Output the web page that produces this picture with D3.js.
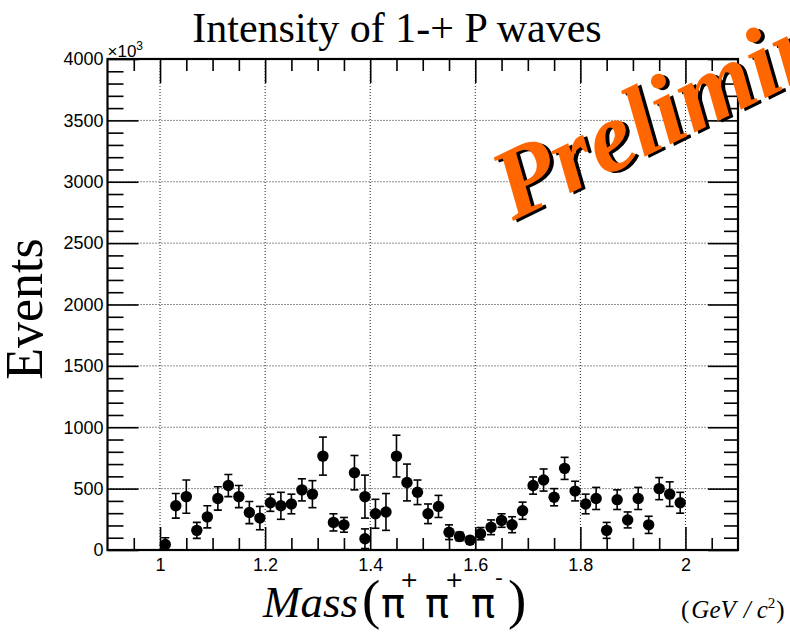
<!DOCTYPE html>
<html>
<head>
<meta charset="utf-8">
<script src="https://cdn.jsdelivr.net/npm/d3@7/dist/d3.min.js"></script>
<style>
  body { margin: 0; background: #fff; }
  svg { display: block; }
</style>
</head>
<body>
<svg id="chart" width="790" height="634"></svg>
<script>
// bin centres (GeV/c^2); 1.39 shows up twice in the plot
let mass = [1.01, 1.03, 1.05, 1.07, 1.09, 1.11, 1.13, 1.15, 1.17, 1.19,
            1.21, 1.23, 1.25, 1.27, 1.29, 1.31, 1.33, 1.35, 1.37, 1.39, 1.39,
            1.41, 1.43, 1.45, 1.47, 1.49, 1.51, 1.53, 1.55, 1.57, 1.59,
            1.61, 1.63, 1.65, 1.67, 1.69, 1.71, 1.73, 1.75, 1.77, 1.79,
            1.81, 1.83, 1.85, 1.87, 1.89, 1.91, 1.93, 1.95, 1.97, 1.99];
// events (x10^3)
let events = [45, 360, 435, 160, 270, 420, 525, 435, 305, 260,
              385, 360, 375, 490, 455, 765, 225, 205, 630, 92, 435,
              295, 310, 765, 550, 470, 295, 355, 145, 110, 80,
              133, 185, 240, 206, 320, 525, 570, 430, 665, 480,
              375, 420, 160, 410, 245, 420, 205, 500, 455, 385];
let errors = [55, 100, 135, 65, 90, 95, 90, 90, 90, 95,
              70, 110, 80, 90, 110, 155, 70, 60, 140, 80, 175,
              118, 150, 170, 150, 100, 80, 90, 60, 35, 30,
              50, 60, 55, 65, 70, 70, 90, 70, 90, 80,
              80, 90, 65, 80, 65, 90, 70, 90, 100, 85];

let xMajor = [1, 1.2, 1.4, 1.6, 1.8, 2];
let xMinor = [0.95, 1.05, 1.1, 1.15, 1.25, 1.3, 1.35, 1.45, 1.5, 1.55, 1.65, 1.7, 1.75, 1.85, 1.9, 1.95, 2.05];
let yMajor = [0, 500, 1000, 1500, 2000, 2500, 3000, 3500, 4000];
let yMinor = [];
for (let v = 0; v <= 4000; v += 100) if (v % 500 !== 0) yMinor.push(v);

let svg = d3.select("#chart");
let pLeft = 107.5, pRight = 738, pTop = 59, pBottom = 550;

let x = d3.scaleLinear().domain([0.9, 2.1]).range([pLeft, pRight]);
let y = d3.scaleLinear().domain([0, 4000]).range([pBottom, pTop]);

let serif = "'Liberation Serif', 'Times New Roman', serif";
let sans = "'Liberation Sans', Arial, sans-serif";

// grid
let grid = svg.append("g")
    .attr("stroke", "#222")
    .attr("stroke-width", 1)
    .attr("stroke-dasharray", "1,2");
grid.selectAll(".gx").data(xMajor).enter().append("line")
    .attr("x1", d => x(d)).attr("x2", d => x(d))
    .attr("y1", pTop).attr("y2", pBottom);
grid.selectAll(".gy").data(yMajor.slice(1, -1)).enter().append("line")
    .attr("x1", pLeft).attr("x2", pRight)
    .attr("y1", d => y(d)).attr("y2", d => y(d));

// axes, ticks pointing inwards like ROOT
let styleAxis = function(g){
    g.select(".domain").remove();
    g.selectAll(".tick line").attr("stroke", "#000").attr("stroke-width", 1.6);
    g.selectAll("text").attr("font-family", sans).attr("font-size", 18).attr("fill", "#000");
};

svg.append("g").attr("transform", `translate(0,${pBottom})`)
    .call(d3.axisBottom(x).tickValues(xMinor).tickSize(-12).tickFormat(""))
    .call(styleAxis);
svg.append("g").attr("transform", `translate(0,${pBottom})`)
    .call(d3.axisBottom(x).tickValues(xMajor).tickSize(-23).tickPadding(8).tickFormat(d3.format("")))
    .call(styleAxis);
svg.append("g").attr("transform", `translate(0,${pTop})`)
    .call(d3.axisTop(x).tickValues(xMinor).tickSize(-12).tickFormat(""))
    .call(styleAxis);
svg.append("g").attr("transform", `translate(0,${pTop})`)
    .call(d3.axisTop(x).tickValues(xMajor).tickSize(-24).tickFormat(""))
    .call(styleAxis);

svg.append("g").attr("transform", `translate(${pLeft},0)`)
    .call(d3.axisLeft(y).tickValues(yMinor).tickSize(-16).tickFormat(""))
    .call(styleAxis);
svg.append("g").attr("transform", `translate(${pLeft},0)`)
    .call(d3.axisLeft(y).tickValues(yMajor).tickSize(-31).tickPadding(4).tickFormat(d3.format("")))
    .call(styleAxis);
svg.append("g").attr("transform", `translate(${pRight},0)`)
    .call(d3.axisRight(y).tickValues(yMinor).tickSize(-14).tickFormat(""))
    .call(styleAxis);
svg.append("g").attr("transform", `translate(${pRight},0)`)
    .call(d3.axisRight(y).tickValues(yMajor).tickSize(-30).tickFormat(""))
    .call(styleAxis);

// frame
svg.append("rect")
    .attr("x", pLeft).attr("y", pTop)
    .attr("width", pRight - pLeft).attr("height", pBottom - pTop)
    .attr("fill", "none").attr("stroke", "#000").attr("stroke-width", 2.2);

// x10^3 multiplier
svg.append("text").attr("x", pLeft).attr("y", 57)
    .attr("font-family", sans).attr("font-size", 17)
    .text("\u00d710")
    .append("tspan").attr("dy", -7).attr("font-size", 12).text("3");

// data points with error bars
let pts = mass.map((m, i) => ({m: m, v: events[i], e: errors[i]}));
svg.append("clipPath").attr("id", "plotclip")
    .append("rect").attr("x", pLeft).attr("y", pTop).attr("width", pRight - pLeft).attr("height", pBottom - pTop);
let data = svg.append("g").attr("clip-path", "url(#plotclip)");
let pt = data.selectAll(".pt").data(pts).enter().append("g");
pt.append("line")
    .attr("x1", d => x(d.m)).attr("x2", d => x(d.m))
    .attr("y1", d => y(d.v + d.e)).attr("y2", d => y(Math.max(0, d.v - d.e)))
    .attr("stroke", "#000").attr("stroke-width", 1.6);
pt.append("line")
    .attr("x1", d => x(d.m) - 4).attr("x2", d => x(d.m) + 4)
    .attr("y1", d => y(d.v + d.e)).attr("y2", d => y(d.v + d.e))
    .attr("stroke", "#000").attr("stroke-width", 1.6);
pt.filter(d => d.v - d.e > 0).append("line")
    .attr("x1", d => x(d.m) - 4).attr("x2", d => x(d.m) + 4)
    .attr("y1", d => y(d.v - d.e)).attr("y2", d => y(d.v - d.e))
    .attr("stroke", "#000").attr("stroke-width", 1.6);
pt.append("circle")
    .attr("cx", d => x(d.m)).attr("cy", d => y(d.v))
    .attr("r", 5.7).attr("fill", "#000");

// title
svg.append("text").attr("x", 397).attr("y", 42)
    .attr("text-anchor", "middle")
    .attr("font-family", serif).attr("font-size", 42)
    .text("Intensity of 1-+ P waves");

// y title
svg.append("text")
    .attr("transform", "translate(42,309) rotate(-90)")
    .attr("text-anchor", "middle")
    .attr("font-family", serif).attr("font-size", 52)
    .text("Events");

// x title: Mass(π+π+π-), one text with positioned pieces
let xt = svg.append("text").attr("x", 263).attr("y", 617).attr("font-family", serif);
xt.append("tspan").attr("font-style", "italic").attr("font-size", 45).text("Mass");
xt.append("tspan").attr("x", 362).attr("y", 618).attr("font-size", 55).text("(");
let pieces = [
    {x: 381, y: 617, size: 40, s: "\u03c0"},
    {x: 400, y: 587, size: 22, s: "+"},
    {x: 425, y: 617, size: 40, s: "\u03c0"},
    {x: 445, y: 587, size: 22, s: "+"},
    {x: 471, y: 617, size: 40, s: "\u03c0"},
    {x: 495, y: 585, size: 22, s: "-"}
];
pieces.forEach(p => {
    xt.append("tspan").attr("x", p.x).attr("y", p.y)
        .attr("font-family", "'DejaVu Sans', sans-serif").attr("font-size", p.size).text(p.s);
});
xt.append("tspan").attr("x", 508).attr("y", 618).attr("font-size", 55).text(")");

// units
let un = svg.append("text").attr("x", 681).attr("y", 618)
    .attr("font-family", serif).attr("font-size", 25);
un.append("tspan").text("(");
un.append("tspan").attr("dx", 2).attr("font-style", "italic").text("GeV");
un.append("tspan").attr("dx", 8).attr("font-style", "italic").text("/");
un.append("tspan").attr("dx", 6).attr("font-style", "italic").text("c");
un.append("tspan").attr("dy", -10).attr("font-size", 15).text("2");
un.append("tspan").attr("dx", 1).attr("dy", 10).text(")");

// Preliminary stamp
let stamp = svg.append("g").attr("transform", "translate(513,221) rotate(-26)");
[["#000", 3, 3], ["#ff6600", 0, 0]].forEach(s => {
    stamp.append("text").attr("x", s[1]).attr("y", s[2])
        .attr("font-family", serif).attr("font-weight", "bold").attr("font-style", "italic")
        .attr("font-size", 100).attr("fill", s[0])
        .text("Preliminary");
});
</script>
</body>
</html>
